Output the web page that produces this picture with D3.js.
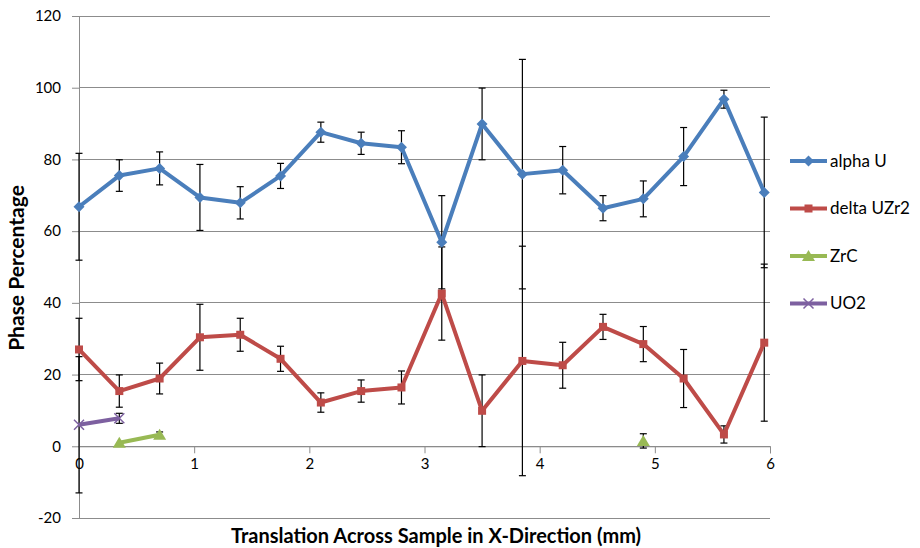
<!DOCTYPE html>
<html>
<head>
<meta charset="utf-8">
<script src="https://cdn.jsdelivr.net/npm/d3@7/dist/d3.min.js"></script>
<style>
  html, body { margin: 0; padding: 0; background: #fff; }
  svg { display: block; font-family: Lato, "Open Sans", sans-serif; }
</style>
</head>
<body>
<svg id="chart" width="920" height="548"></svg>
<script>
// Measurement positions across the sample (mm)
const positions = [0, 0.35, 0.70, 1.05, 1.40, 1.75, 2.10, 2.45, 2.80, 3.15, 3.50, 3.85, 4.20, 4.55, 4.90, 5.25, 5.60, 5.95];

// Phase percentages and their uncertainties
const alphaU      = [66.8, 75.5, 77.5, 69.4, 67.9, 75.4, 87.6, 84.5, 83.4, 56.9, 89.9, 75.9, 77.0, 66.4, 69.0, 80.8, 96.8, 70.8];
const alphaUErr   = [14.9, 4.4, 4.6, 9.2, 4.5, 3.5, 2.8, 3.1, 4.6, 13, 10, 32, 6.6, 3.5, 5, 8.1, 2.5, 21];
const deltaUZr2   = [27.0, 15.4, 18.9, 30.4, 31.1, 24.4, 12.2, 15.4, 16.4, 42.6, 9.9, 23.8, 22.6, 33.3, 28.5, 18.9, 3.3, 28.9];
const deltaUZr2Err= [8.7, 4.5, 4.3, 9.2, 4.6, 3.5, 2.7, 3.1, 4.6, 13, 10, 32, 6.4, 3.5, 4.9, 8.1, 2.4, 21.9];
const zrC         = [null, 1.0, 3.2, null, null, null, null, null, null, null, null, null, null, null, 1.5, null, null, null];
const zrCErr      = [null, 0, 0.8, null, null, null, null, null, null, null, null, null, null, null, 2, null, null, null];
const uo2         = [6.0, 7.8, null, null, null, null, null, null, null, null, null, null, null, null, null, null, null, null];
const uo2Err      = [19, 1.4, null, null, null, null, null, null, null, null, null, null, null, null, null, null, null, null];

const seriesNames = ["alpha U", "delta UZr2", "ZrC", "UO2"];
const yTicks = [-20, 0, 20, 40, 60, 80, 100, 120];
const xTicks = [0, 1, 2, 3, 4, 5, 6];

const series = [
  { name: seriesNames[0], values: alphaU,    err: alphaUErr,    color: "#4a7ebb", marker: "diamond" },
  { name: seriesNames[1], values: deltaUZr2, err: deltaUZr2Err, color: "#be4b48", marker: "square" },
  { name: seriesNames[2], values: zrC,       err: zrCErr,       color: "#98b954", marker: "triangle" },
  { name: seriesNames[3], values: uo2,       err: uo2Err,       color: "#7d60a0", marker: "cross" }
];

const svg = d3.select("#chart");
const x = d3.scaleLinear().domain([0, 6]).range([79, 770]);
const y = d3.scaleLinear().domain([-20, 120]).range([518, 16]);
const gridColor = "#8c8c8c";
const plainNum = d => String(d);   // keep an ASCII hyphen for negatives

// Horizontal gridlines
svg.append("g").selectAll("line").data(yTicks).join("line")
  .attr("x1", x(0)).attr("x2", x(6))
  .attr("y1", d => y(d)).attr("y2", d => y(d))
  .attr("stroke", gridColor).attr("stroke-width", 1).attr("shape-rendering", "crispEdges");

// Y axis
const yAxis = svg.append("g").attr("transform", `translate(${x(0)},0)`)
  .call(d3.axisLeft(y).tickValues(yTicks).tickSize(7).tickPadding(11).tickFormat(plainNum));
yAxis.select(".domain").attr("stroke", gridColor);
yAxis.selectAll(".tick line").attr("stroke", gridColor);
yAxis.selectAll("text").attr("font-size", 15).attr("fill", "#000").attr("font-family", "Lato, sans-serif");

// X axis sits on the zero line
const xAxis = svg.append("g").attr("transform", `translate(0,${y(0)})`)
  .call(d3.axisBottom(x).tickValues(xTicks).tickSize(7).tickPadding(5).tickFormat(plainNum));
xAxis.select(".domain").attr("stroke", gridColor);
xAxis.selectAll(".tick line").attr("stroke", gridColor);
xAxis.selectAll("text").attr("font-size", 15).attr("fill", "#000").attr("font-family", "Lato, sans-serif");

// Error bars
const errG = svg.append("g").attr("stroke", "#000").attr("stroke-width", 1.2);
series.forEach(s => {
  s.values.forEach((v, i) => {
    if (v == null || s.err[i] == null || s.err[i] === 0) return;
    const cx = x(positions[i]);
    const top = y(v + s.err[i]), bot = y(v - s.err[i]);
    errG.append("line").attr("x1", cx).attr("x2", cx).attr("y1", top).attr("y2", bot);
    errG.append("line").attr("x1", cx - 3.5).attr("x2", cx + 3.5).attr("y1", top).attr("y2", top);
    errG.append("line").attr("x1", cx - 3.5).attr("x2", cx + 3.5).attr("y1", bot).attr("y2", bot);
  });
});

// Marker shapes
function drawMarker(g, type, cx, cy, color) {
  if (type === "diamond") {
    g.append("path").attr("d", `M${cx},${cy - 5.5}L${cx + 5.5},${cy}L${cx},${cy + 5.5}L${cx - 5.5},${cy}Z`).attr("fill", color);
  } else if (type === "square") {
    g.append("rect").attr("x", cx - 4).attr("y", cy - 4).attr("width", 8).attr("height", 8).attr("fill", color);
  } else if (type === "triangle") {
    g.append("path").attr("d", `M${cx},${cy - 6}L${cx + 6.5},${cy + 5}L${cx - 6.5},${cy + 5}Z`).attr("fill", color);
  } else if (type === "cross") {
    g.append("path").attr("d", `M${cx - 5},${cy - 5}L${cx + 5},${cy + 5}M${cx - 5},${cy + 5}L${cx + 5},${cy - 5}`)
      .attr("stroke", color).attr("stroke-width", 1.5).attr("fill", "none");
  }
}

// Series lines and markers
const line = d3.line()
  .defined(d => d.v != null)
  .x(d => x(d.p)).y(d => y(d.v));

series.forEach(s => {
  const pts = s.values.map((v, i) => ({ p: positions[i], v }));
  svg.append("path").datum(pts)
    .attr("d", line)
    .attr("fill", "none").attr("stroke", s.color).attr("stroke-width", 4)
    .attr("stroke-linejoin", "round");
  const mg = svg.append("g");
  pts.forEach(d => { if (d.v != null) drawMarker(mg, s.marker, x(d.p), y(d.v), s.color); });
});

// Axis titles
svg.append("text").attr("x", 436).attr("y", 543)
  .attr("text-anchor", "middle").attr("font-weight", "bold").attr("font-size", 20)
  .attr("font-family", "Lato, sans-serif")
  .text("Translation Across Sample in X-Direction (mm)");
svg.append("text").attr("transform", "translate(24,268) rotate(-90)")
  .attr("text-anchor", "middle").attr("font-weight", "bold").attr("font-size", 21)
  .attr("font-family", "Lato, sans-serif")
  .text("Phase Percentage");

// Legend
const legend = svg.append("g");
series.forEach((s, i) => {
  const ly = 161 + i * 47.5;
  legend.append("line").attr("x1", 790).attr("x2", 827).attr("y1", ly).attr("y2", ly)
    .attr("stroke", s.color).attr("stroke-width", 4);
  drawMarker(legend, s.marker, 808.5, ly, s.color);
  legend.append("text").attr("x", 830).attr("y", ly).attr("dy", "0.35em")
    .attr("font-size", 17).attr("font-family", "Lato, sans-serif").text(s.name);
});
</script>
</body>
</html>
